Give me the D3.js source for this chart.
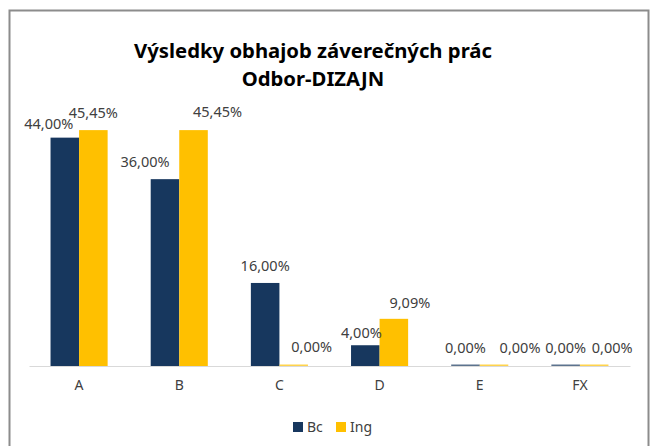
<!DOCTYPE html>
<html>
<head>
<meta charset="utf-8">
<script src="https://cdn.jsdelivr.net/npm/d3@7"></script>
<style>
  body { margin: 0; background: #fff; }
  text { font-family: "Noto Sans", sans-serif; }
</style>
</head>
<body>
<div id="chart"></div>
<script>
const width = 660, height = 446;

// data
const categories = ["A", "B", "C", "D", "E", "FX"];
const seriesNames = ["Bc", "Ing"];
const bcValues = [44.00, 36.00, 16.00, 4.00, 0.00, 0.00];
const ingValues = [45.45, 45.45, 0.00, 9.09, 0.00, 0.00];
const titleLines = ["Výsledky obhajob záverečných prác", "Odbor-DIZAJN"];

const colors = { Bc: "#17375E", Ing: "#FFC000" };

// label nudges (Excel moved some labels to avoid collisions)
const labelShift = {
  Bc:  [[-16, -9], [-20, -12], [0, -12], [-4, -7], [0, -13], [0, -13]],
  Ing: [[0, -12], [24, -13], [18, -14], [16, -11], [26, -13], [18, -13]]
};

const svg = d3.select("#chart")
  .append("svg")
  .attr("width", width)
  .attr("height", height);

// frame
svg.append("rect")
  .attr("x", 9.5).attr("y", 10.5)
  .attr("width", 639).attr("height", 450)
  .attr("fill", "#fff")
  .attr("stroke", "#8c8c8c")
  .attr("stroke-width", 2);

// title
svg.append("g")
  .selectAll("text")
  .data(titleLines)
  .enter().append("text")
  .attr("x", 313)
  .attr("y", (d, i) => 58 + i * 28)
  .attr("text-anchor", "middle")
  .attr("font-size", 20.3)
  .attr("font-weight", "bold")
  .attr("fill", "#000")
  .text(d => d);

const x = d3.scaleBand()
  .domain(categories)
  .range([29, 630])
  .paddingInner(0.43)
  .paddingOuter(0.215);

const xs = d3.scaleBand()
  .domain(seriesNames)
  .range([0, x.bandwidth()]);

const y = d3.scaleLinear()
  .domain([0, 50])
  .range([366, 106.5]);

const rows = categories.map((c, i) => ({ cat: c, i: i, Bc: bcValues[i], Ing: ingValues[i] }));

// bars
const groups = svg.append("g")
  .selectAll("g")
  .data(rows)
  .enter().append("g")
  .attr("transform", d => `translate(${x(d.cat)},0)`);

groups.selectAll("rect")
  .data(d => seriesNames.map(s => ({ s: s, v: d[s], i: d.i })))
  .enter().append("rect")
  .attr("x", d => xs(d.s))
  .attr("y", d => y(d.v) - (d.v === 0 ? 1.5 : 0))
  .attr("width", xs.bandwidth())
  .attr("height", d => y(0) - y(d.v) + (d.v === 0 ? 1.5 : 0))
  .attr("fill", d => colors[d.s])
  .attr("opacity", d => d.v === 0 ? 0.7 : 1);

// x axis
const xAxis = svg.append("g")
  .attr("transform", `translate(0,${y(0)})`)
  .call(d3.axisBottom(x).tickSize(0).tickPadding(14));
xAxis.select(".domain")
  .attr("stroke", "#d9d9d9")
  .attr("stroke-width", 1.2);
xAxis.selectAll("text")
  .attr("font-family", "Noto Sans, sans-serif")
  .attr("font-size", 14)
  .attr("fill", "#404040");

// data labels
groups.selectAll("text.lbl")
  .data(d => seriesNames.map(s => ({ s: s, v: d[s], i: d.i })))
  .enter().append("text")
  .attr("class", "lbl")
  .attr("x", d => xs(d.s) + xs.bandwidth() / 2 + labelShift[d.s][d.i][0])
  .attr("y", d => y(d.v) + labelShift[d.s][d.i][1])
  .attr("text-anchor", "middle")
  .attr("font-size", 14.5)
  .attr("fill", "#404040")
  .text(d => d.v.toFixed(2).replace(".", ",") + "%");

// legend
const legend = svg.append("g")
  .selectAll("g")
  .data(seriesNames)
  .enter().append("g")
  .attr("transform", (d, i) => `translate(${293 + i * 43},422)`);

legend.append("rect")
  .attr("width", 10)
  .attr("height", 10)
  .attr("fill", d => colors[d]);

legend.append("text")
  .attr("x", 14)
  .attr("y", 10)
  .attr("font-size", 14)
  .attr("fill", "#404040")
  .text(d => d);
</script>
</body>
</html>
